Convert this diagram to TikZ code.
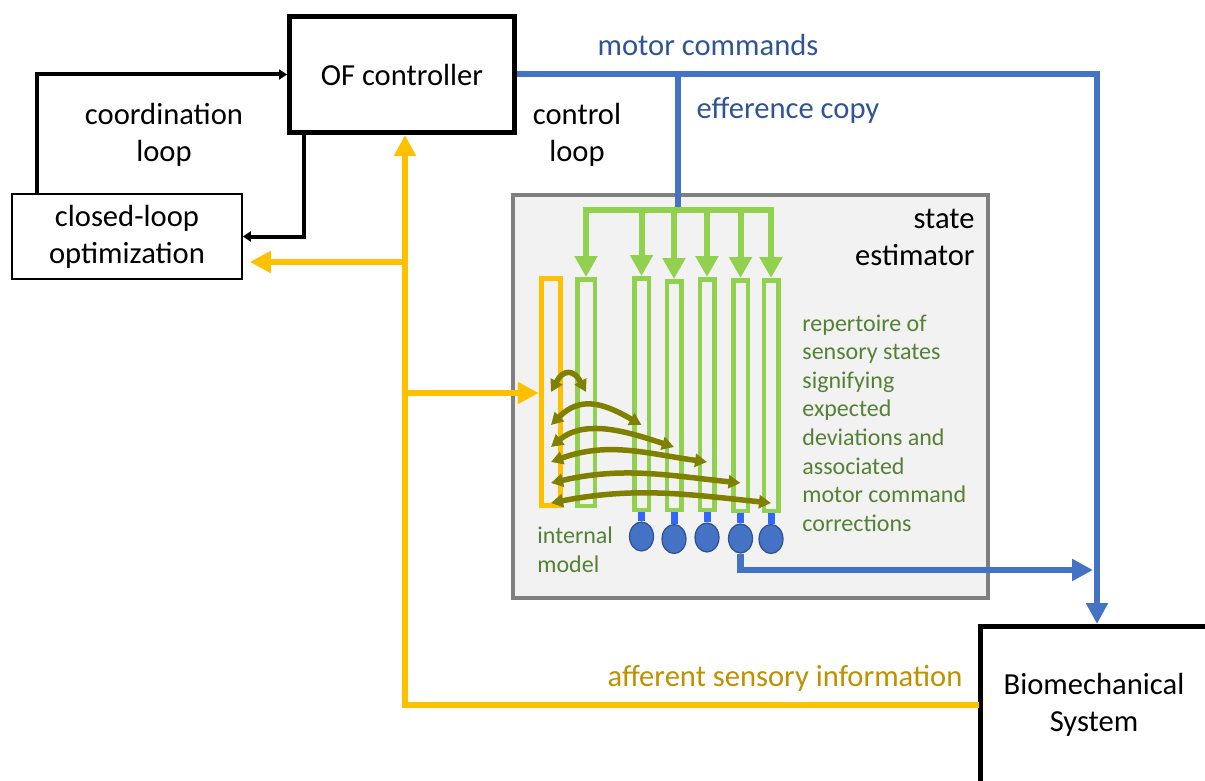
\documentclass[tikz,border=0pt]{standalone}
\usepackage{fontspec}
\setmainfont{Carlito}
\usetikzlibrary{positioning,shapes.geometric,arrows.meta}

\definecolor{mblue}{HTML}{4472C4}
\definecolor{mbluetext}{HTML}{2F5597}
\definecolor{stemblue}{HTML}{3366FF}
\definecolor{dotedge}{HTML}{2F528F}
\definecolor{aff}{HTML}{FFC000}
\definecolor{afftext}{HTML}{BF9000}
\definecolor{lgreen}{HTML}{92D050}
\definecolor{dgreen}{HTML}{548235}
\definecolor{estfill}{HTML}{F2F2F2}
\definecolor{estedge}{HTML}{7F7F7F}
\definecolor{olivearc}{HTML}{808000}

\tikzset{
    bigfont/.style={font=\fontsize{15.3}{18.5}\selectfont},
    smallfont/.style={font=\fontsize{12}{14.3}\selectfont},
    ctrlbox/.style={draw, line width=2.5pt, inner sep=0pt, align=center, bigfont},
    optbox/.style={draw, line width=0.85pt, inner sep=0pt, align=center, bigfont},
    estbox/.style={draw=estedge, fill=estfill, line width=2pt, inner sep=0pt},
    column/.style={draw=lgreen, line width=2.25pt, inner sep=0pt},
    dot/.style={ellipse, draw=dotedge, fill=mblue, line width=0.6pt,
        minimum width=12pt, minimum height=14.5pt, inner sep=0pt},
    blackline/.style={line width=2pt, line join=miter, -{Triangle[length=4pt, width=5pt]}},
    blueline/.style={draw=mblue, line width=3.2pt, line join=miter},
    bluetip/.style={-{Triangle[length=10.5pt, width=10.5pt]}},
    orangeline/.style={draw=aff, line width=3pt, line join=miter,
        -{Triangle[length=10.5pt, width=10.5pt]}},
    greenline/.style={draw=lgreen, line width=3pt, line join=miter},
    greentip/.style={-{Triangle[length=10.5pt, width=11pt]}},
    greenboth/.style={{Triangle[length=10.5pt, width=11pt]}-{Triangle[length=10.5pt, width=11pt]}},
    stem/.style={draw=stemblue, line width=3.5pt},
    olivearrow/.style={draw=olivearc, line width=2.75pt,
        {Triangle[length=6pt, width=6.5pt]}-{Triangle[length=6pt, width=6.5pt]}},
}

\begin{document}
\begin{tikzpicture}[x=0.5pt, y=0.5pt]
    % page size
    \useasboundingbox (0,0) rectangle (1205,-781);

    % main blocks
    \node[ctrlbox, minimum width=112.5pt, minimum height=58pt] (of) at (402,-74.5) {OF controller};
    \node[optbox, minimum width=115pt, minimum height=42.5pt] (opt) at (127,-236.5) {closed-loop\\optimization};
    \node[estbox, minimum width=237.5pt, minimum height=201.5pt] (est) at (750.5,-396.5) {};
    \node[bigfont, anchor=east, align=right, inner sep=0pt] (estlabel) at (975,-237) {state\\estimator};

    % biomechanical system (cut off by the page edge)
    \draw[line width=2.5pt, line join=miter] (1215,-626.5) -| (980.5,-795);
    \node[bigfont, align=center] (bio) at (1094,-705) {Biomechanical\\System};
    \coordinate (bioN) at (1097,-624);
    \coordinate (bioW) at (979,-705);

    % loop labels
    \node[bigfont, align=center] (coordlabel) at (164,-135) {coordination\\loop};
    \node[bigfont, align=center] (ctrllabel) at (577,-135) {control\\loop};

    % coordination loop
    \coordinate (coordA) at (37,-193);
    \draw[blackline] (coordA) |- (of.west);
    \draw[blackline] (of.south -| 304,0) |- (opt.east);

    % motor commands and efference copy
    \coordinate (mcorner) at (1097,-74);
    \coordinate (effTop) at (678,-74);
    \coordinate (bar) at (678,-210);
    \draw[blueline, bluetip] (of.east |- mcorner) -- (mcorner) -- (bioN);
    \draw[blueline] (effTop) -- ([yshift=1pt]bar);
    \node[bigfont, text=mbluetext] (mclabel) at (708,-45) {motor commands};
    \node[bigfont, text=mbluetext] (efflabel) at (788,-110) {efference copy};

    % internal model and the repertoire columns
    \node[draw=aff, line width=2.75pt, inner sep=0pt, minimum width=9.5pt, minimum height=113.5pt] (im) at (551,-392) {};
    \node[column, minimum width=8.75pt, minimum height=113.25pt] (c1) at (586,-392.5) {};
    \foreach \n/\x/\yc/\h in {2/641.5/394/231.5, 3/674/395.5/228.5, 4/707/394.5/230.5,
                              5/740.5/395.5/230.5, 6/771/395.5/230.5} {
        \node[column, minimum width=7.25pt, minimum height=\h*0.5pt] (c\n) at (\x,-\yc) {};
    }

    % efference copy fanned out to the columns
    \draw[greenline, greenboth] (c1.north) |- (bar) -| (c6.north);
    \foreach \n in {2,3,4,5} {
        \draw[greenline, greentip] (bar -| c\n) -- (c\n.north);
    }

    % sensory read-out
    \foreach \n/\x/\yc in {2/641.5/536.5, 3/674/539, 4/707/537.5, 5/740.5/538.5, 6/771/539} {
        \node[dot] (d\n) at (\x,-\yc) {};
        \draw[stem] (c\n.south) -- (d\n.north);
    }
    \coordinate (stIn) at (1093,-570);
    \draw[blueline, bluetip] (d5.south) |- (stIn);

    % links between internal model and columns
    \foreach \yc/\c/\o/\i/\l in {392/c1/62/118/1.9, 425/c2/45/150/1.2, 447/c3/40/162/0.95,
                                 462/c4/20/172/1, 483/c5/13/174/1, 503/c6/11/174/1} {
        \draw[olivearrow] (im.center |- 0,-\yc) to[out=\o, in=\i, looseness=\l] (\c.center |- 0,-\yc);
    }

    \node[smallfont, text=dgreen, anchor=west, align=left, inner sep=0pt] (replabel) at (802,-423)
        {repertoire of\\sensory states\\signifying\\expected\\deviations and\\associated\\motor command\\corrections};
    \node[smallfont, text=dgreen, anchor=west, align=left, inner sep=0pt] (imlabel) at (537,-549.5) {internal\\model};

    % afferent sensory information
    \coordinate (affC) at (405,-705);
    \coordinate (jOpt) at (405,-262);
    \coordinate (jIm) at (405,-393);
    \draw[orangeline] (bioW) -- (affC) -- (of.south -| affC);
    \draw[orangeline, shorten >=3.5pt] (jOpt) -- (jOpt -| opt.east);
    \draw[orangeline] (jIm) -- (jIm -| im.west);
    \node[bigfont, text=afftext] (afflabel) at (785,-678) {afferent sensory information};
\end{tikzpicture}
\end{document}
